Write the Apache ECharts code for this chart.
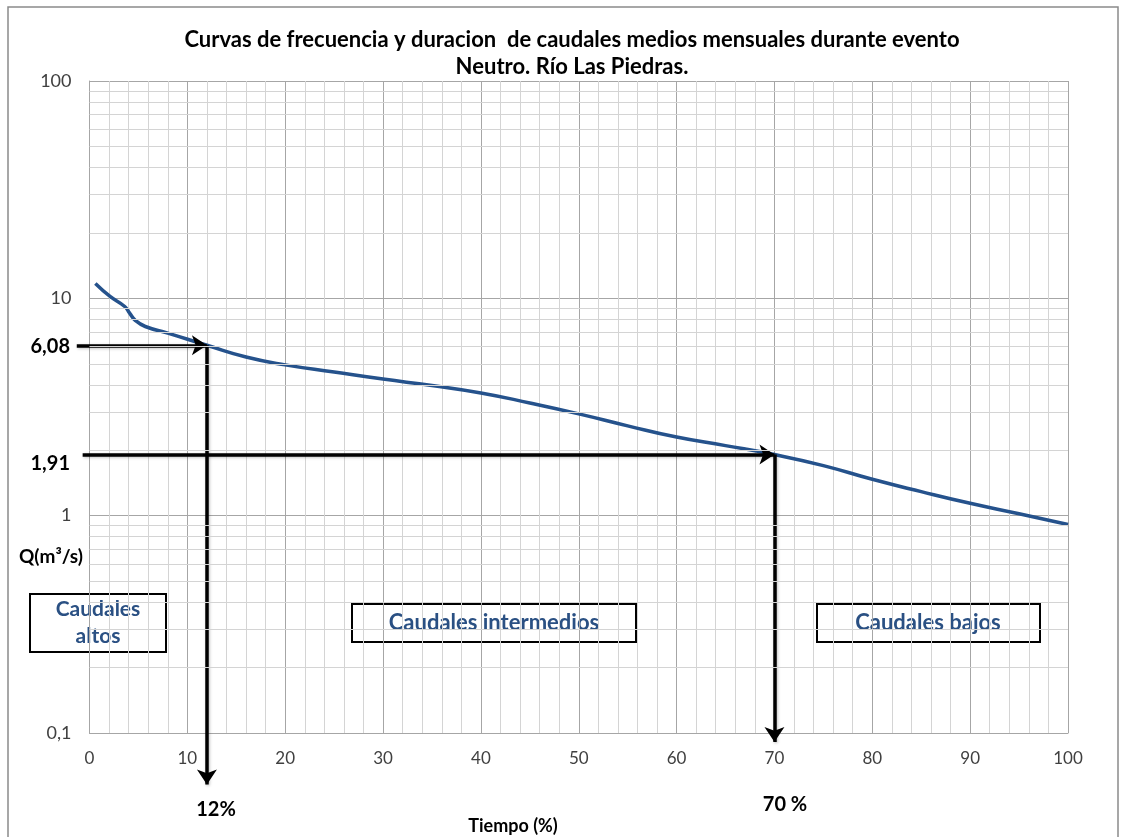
<!DOCTYPE html>
<html>
<head>
<meta charset="utf-8">
<script src="https://cdn.jsdelivr.net/npm/echarts@6/dist/echarts.min.js"></script>
<style>
  html, body { margin: 0; padding: 0; background: #fff; }
  #chart { width: 1125px; height: 837px; }
</style>
</head>
<body>
<div id="chart"></div>
<script>
// Curva de duración de caudales medios mensuales (evento Neutro, Río Las Piedras)
const tiempo = [0.6, 2.1, 3.6, 4.1, 4.7, 5.7, 8, 12, 16, 20, 25, 30, 35, 40, 45, 50, 55, 60, 65, 70, 75, 80, 85, 90, 95, 100];
const caudal = [11.7, 10.2, 9.17, 8.55, 7.9, 7.42, 6.92, 6.08, 5.37, 4.94, 4.58, 4.25, 3.97, 3.67, 3.30, 2.94, 2.59, 2.30, 2.10, 1.91, 1.70, 1.47, 1.29, 1.14, 1.02, 0.91];

// Puntos de corte entre caudales altos / intermedios / bajos
const tiempoCorte = [12, 70];
const caudalCorte = [6.08, 1.91];
// Extremos de las flechas (fuera del área de trazado)
const inicioFlechaX = [-1.3, -0.7];
const finFlechaY = [0.058, 0.091];

// Valores de las líneas secundarias de la escala logarítmica
const lineasMenores = [];
[0.1, 1, 10].forEach(d => { for (let k = 2; k <= 9; k++) lineasMenores.push(+(d * k).toFixed(2)); });

const FONT = 'Lato, "Open Sans", sans-serif';
const coma = v => String(v).replace('.', ',');

const chart = echarts.init(document.getElementById('chart'));

const flechas = [];
tiempoCorte.forEach((t, i) => {
  flechas.push({ coords: [[inicioFlechaX[i], caudalCorte[i]], [t, caudalCorte[i]]] });
  flechas.push({ coords: [[t, caudalCorte[i]], [t, finFlechaY[i]]] });
});

chart.setOption({
  animation: false,
  backgroundColor: '#fff',
  title: {
    text: 'Curvas de frecuencia y duracion  de caudales medios mensuales durante evento\nNeutro. Río Las Piedras.',
    left: 567, top: 21, textAlign: 'center',
    textStyle: { fontFamily: FONT, fontWeight: 'bold', fontSize: 22, color: '#000', lineHeight: 27 }
  },
  grid: { left: 89.5, right: 57, top: 81, bottom: 104, containLabel: false },
  xAxis: {
    type: 'value', min: 0, max: 100, interval: 10,
    axisLine: { show: true, lineStyle: { color: '#a6a6a6', width: 1 } },
    axisTick: { show: false },
    axisLabel: { margin: 17, color: '#404040', fontSize: 17, fontFamily: FONT },
    splitLine: { show: true, lineStyle: { color: '#a6a6a6', width: 1 } },
    minorTick: { show: false, splitNumber: 5 },
    minorSplitLine: { show: true, lineStyle: { color: '#d4d4d4', width: 1 } }
  },
  yAxis: {
    type: 'log', logBase: 10, min: 0.1, max: 100,
    axisLine: { show: true, lineStyle: { color: '#a6a6a6', width: 1 } },
    axisTick: { show: false },
    axisLabel: { margin: 18, color: '#404040', fontSize: 18, fontFamily: FONT, formatter: coma },
    splitLine: { show: true, lineStyle: { color: '#a6a6a6', width: 1 } }
  },
  series: [
    {
      // rejilla secundaria horizontal (2..9 en cada década)
      type: 'line', data: [], z: 1, silent: true,
      markLine: {
        silent: true, symbol: 'none', label: { show: false },
        lineStyle: { color: '#d4d4d4', width: 1, type: 'solid' },
        emphasis: { disabled: true },
        data: lineasMenores.map(v => ({ yAxis: v }))
      }
    },
    {
      name: 'Q', type: 'line', z: 3,
      data: tiempo.map((t, i) => [t, caudal[i]]),
      smooth: 0.5,
      showSymbol: false,
      lineStyle: { color: '#25528C', width: 3.5 }
    },
    {
      type: 'lines', coordinateSystem: 'cartesian2d', z: 4, clip: false, silent: true,
      symbol: ['none', 'arrow'], symbolSize: [13, 15],
      lineStyle: { color: '#000', width: 3.5, opacity: 1, curveness: 0,
        shadowColor: 'rgba(0,0,0,0.25)', shadowBlur: 3, shadowOffsetX: 1, shadowOffsetY: 1 },
      data: flechas
    }
  ],
  graphic: [
    { type: 'rect', z: 0, silent: true, shape: { x: 8, y: 7, width: 1110, height: 850 },
      style: { fill: 'none', stroke: '#8a8a8a', lineWidth: 1.5 } },
    { type: 'text', x: 70, y: 347, z: 10, style: { text: coma(caudalCorte[0]), font: 'bold 20px ' + FONT, fill: '#000', align: 'right', verticalAlign: 'middle' } },
    { type: 'text', x: 70, y: 464, z: 10, style: { text: coma(caudalCorte[1]), font: 'bold 20px ' + FONT, fill: '#000', align: 'right', verticalAlign: 'middle' } },
    { type: 'text', x: 51, y: 557, z: 10, style: { text: 'Q(m³/s)', font: 'bold 19px ' + FONT, fill: '#000', align: 'center', verticalAlign: 'middle' } },
    { type: 'text', x: 216, y: 810, z: 10, style: { text: tiempoCorte[0] + '%', font: 'bold 20px ' + FONT, fill: '#000', align: 'center', verticalAlign: 'middle' } },
    { type: 'text', x: 785, y: 805, z: 10, style: { text: tiempoCorte[1] + ' %', font: 'bold 20px ' + FONT, fill: '#000', align: 'center', verticalAlign: 'middle' } },
    { type: 'text', x: 513, y: 826, z: 10, style: { text: 'Tiempo (%)', font: 'bold 18px ' + FONT, fill: '#000', align: 'center', verticalAlign: 'middle' } },
    { type: 'group', z: 10, children: [
      { type: 'rect', shape: { x: 30, y: 594, width: 136, height: 58 }, style: { fill: '#fff', stroke: '#000', lineWidth: 2 } },
      { type: 'text', x: 98, y: 623, style: { text: 'Caudales\naltos', font: 'bold 21px ' + FONT, fill: '#2A5083', align: 'center', verticalAlign: 'middle', lineHeight: 27 } }
    ] },
    { type: 'group', z: 10, children: [
      { type: 'rect', shape: { x: 352, y: 604, width: 284, height: 38 }, style: { fill: '#fff', stroke: '#000', lineWidth: 2 } },
      { type: 'text', x: 494, y: 623, style: { text: 'Caudales intermedios', font: 'bold 22px ' + FONT, fill: '#2A5083', align: 'center', verticalAlign: 'middle' } }
    ] },
    { type: 'group', z: 10, children: [
      { type: 'rect', shape: { x: 817, y: 604, width: 223, height: 38 }, style: { fill: '#fff', stroke: '#000', lineWidth: 2 } },
      { type: 'text', x: 928, y: 623, style: { text: 'Caudales bajos', font: 'bold 22px ' + FONT, fill: '#2A5083', align: 'center', verticalAlign: 'middle' } }
    ] }
  ]
});
</script>
</body>
</html>
